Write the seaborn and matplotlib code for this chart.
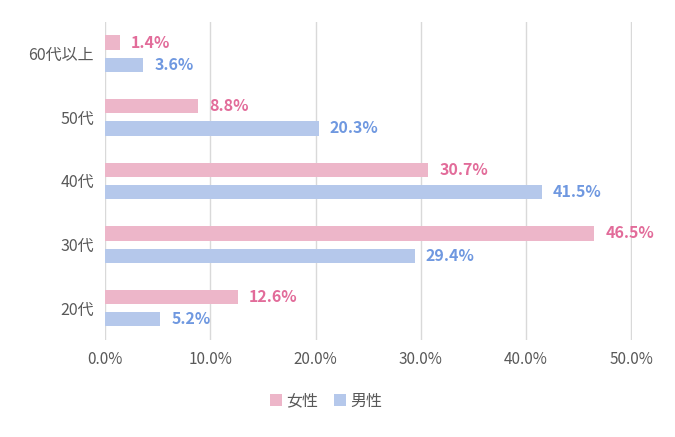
import pandas as pd
import seaborn as sns
import matplotlib.pyplot as plt

plt.rcParams["font.family"] = "Noto Sans CJK JP"

ages = ["60代以上", "50代", "40代", "30代", "20代"]
female = [1.4, 8.8, 30.7, 46.5, 12.6]
male = [3.6, 20.3, 41.5, 29.4, 5.2]
ticks = [0, 10, 20, 30, 40, 50]

df = pd.DataFrame({
    "age": ages * 2,
    "value": female + male,
    "sex": ["女性"] * len(ages) + ["男性"] * len(ages),
})

pal = {"女性": "#EDB6C9", "男性": "#B5C8EB"}
txt = {"女性": "#E26C9A", "男性": "#6F98E0"}

fig = plt.figure(figsize=(6.75, 4.37), dpi=100)
ax = fig.add_axes([0.156, 0.222, 0.78, 0.728])
sns.barplot(data=df, y="age", x="value", hue="sex", order=ages,
            hue_order=["女性", "男性"], palette=pal, width=0.7, gap=0.36,
            saturation=1, ax=ax)

for cont, s in zip(ax.containers, ["女性", "男性"]):
    ax.bar_label(cont, labels=[f"{v:.1f}%" for v in cont.datavalues],
                 padding=8, color=txt[s], fontweight="bold", fontsize=11.5)

ax.set_xlim(0, 50.05)
ax.set_xticks(ticks)
ax.set_xticklabels([f"{t:.1f}%" for t in ticks], color="#595959", fontsize=11)
ax.tick_params(axis="y", labelsize=11.5, labelcolor="#595959", length=0, pad=8)
ax.tick_params(axis="x", length=0, pad=8)
ax.set_xlabel("")
ax.set_ylabel("")
ax.grid(axis="x", color="#D9D9D9", linewidth=1)
ax.set_axisbelow(True)
for sp in ax.spines.values():
    sp.set_visible(False)

ax.legend(loc="upper center", bbox_to_anchor=(0.42, -0.12), ncol=2, frameon=False,
          fontsize=11.5, handlelength=0.7, handleheight=0.7, columnspacing=1.0,
          handletextpad=0.3, labelcolor="#595959")

fig.savefig("out.png", dpi=100)
